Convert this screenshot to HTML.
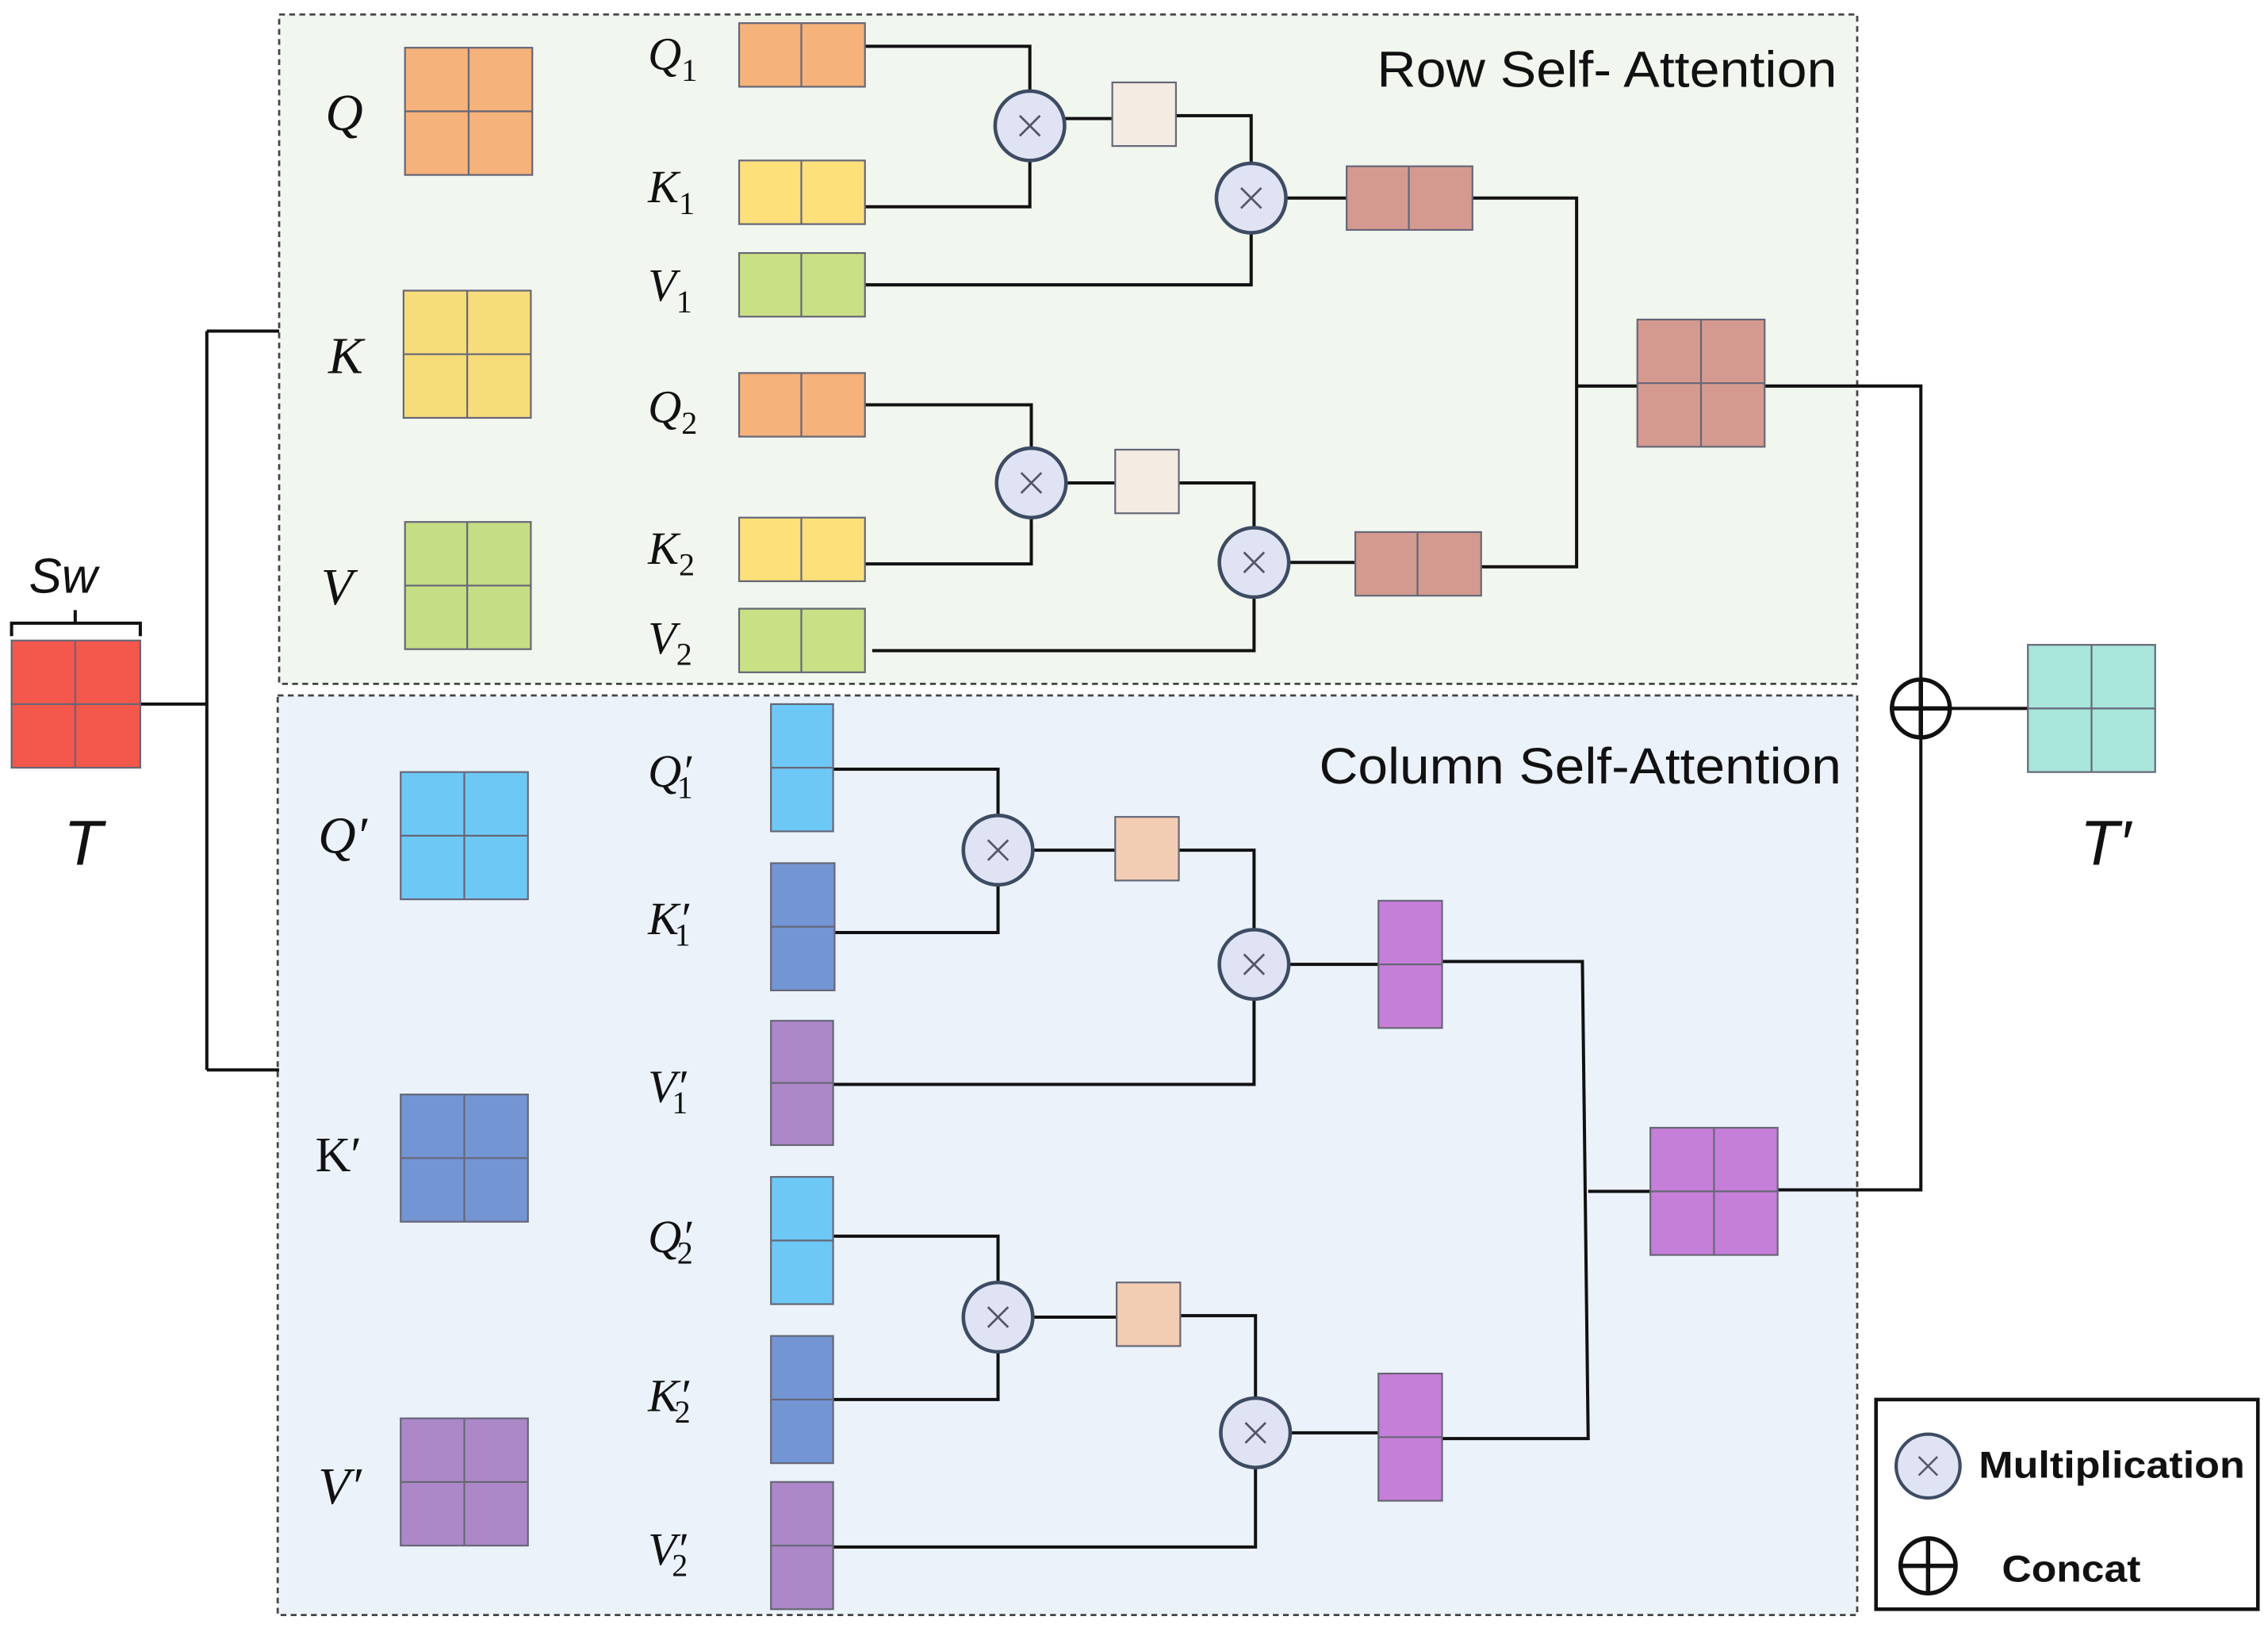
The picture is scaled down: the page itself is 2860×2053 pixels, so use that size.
<!DOCTYPE html>
<html><head><meta charset="utf-8"><style>html,body{margin:0;padding:0;background:#fff}svg{display:block}</style></head><body>
<svg width="2860" height="2053" viewBox="0 0 1568 1126" preserveAspectRatio="none" xmlns="http://www.w3.org/2000/svg">
<defs>
<g id="mul"><circle r="24" fill="#dfe3f4" stroke="#3d4b63" stroke-width="2.5"/><path d="M-7,-7L7,7M-7,7L7,-7" stroke="#556" stroke-width="1.5"/></g>
</defs>
<rect x="193" y="10" width="1091" height="463" fill="#f1f6ee" stroke="#444" stroke-width="1.5" stroke-dasharray="4,3"/>
<rect x="192" y="481" width="1092" height="636" fill="#ebf2fa" stroke="#444" stroke-width="1.5" stroke-dasharray="4,3"/>
<g fill="none" stroke="#111" stroke-width="2.2">
<path d="M97,487H143M143,229V740M143,229H193M143,740H193"/>
<path d="M598,32H712V63M598,143H712V111M736,82H769M813,80H865V113M598,197H865V161M889,137H931M1018,137H1090V392H1024M1090,267H1132M1220,267H1328V823H1229M1349,490H1402"/>
<path d="M598,280H713V310M598,390H713V358M737,334H771M815,334H867V365M603,450H867V413M891,389H937"/>
<path d="M576,532H690V564M577,645H690V612M714,588H771M815,588H867V643M576,750H867V691M891,667H953M997,665H1094L1098,995H997M1098,824H1141"/>
<path d="M576,855H690V887M576,968H690V935M714,911H772M816,910H868V967M576,1070H868V1015M892,991H953"/>
<path d="M8,440V431H97V440M52,431V422"/>
</g>
<g stroke="#667" stroke-width="1.2">
<rect x="8" y="443" width="89" height="88" fill="#f4574b"/><path d="M52,443V531M8,487H97"/>
<rect x="280" y="33" width="88" height="88" fill="#f5b27a"/><path d="M324,33V121M280,77H368"/>
<rect x="279" y="201" width="88" height="88" fill="#f7dc7a"/><path d="M323,201V289M279,245H367"/>
<rect x="280" y="361" width="87" height="88" fill="#c5dd85"/><path d="M323,361V449M280,405H367"/>
<rect x="277" y="534" width="88" height="88" fill="#6ec8f5"/><path d="M321,534V622M277,578H365"/>
<rect x="277" y="757" width="88" height="88" fill="#7495d4"/><path d="M321,757V845M277,801H365"/>
<rect x="277" y="981" width="88" height="88" fill="#ac88c8"/><path d="M321,981V1069M277,1025H365"/>
<rect x="1132" y="221" width="88" height="88" fill="#d49a90"/><path d="M1176,221V309M1132,265H1220"/>
<rect x="1141" y="780" width="88" height="88" fill="#c67fd8"/><path d="M1185,780V868M1141,824H1229"/>
<rect x="1402" y="446" width="88" height="88" fill="#a8e6dc"/><path d="M1446,446V534M1402,490H1490"/>
<rect x="511" y="16" width="87" height="44" fill="#f5b27a"/><path d="M554,16V60"/>
<rect x="511" y="111" width="87" height="44" fill="#fde07a"/><path d="M554,111V155"/>
<rect x="511" y="175" width="87" height="44" fill="#c9e184"/><path d="M554,175V219"/>
<rect x="511" y="258" width="87" height="44" fill="#f5b27a"/><path d="M554,258V302"/>
<rect x="511" y="358" width="87" height="44" fill="#fde07a"/><path d="M554,358V402"/>
<rect x="511" y="421" width="87" height="44" fill="#c9e184"/><path d="M554,421V465"/>
<rect x="931" y="115" width="87" height="44" fill="#d49a90"/><path d="M974,115V159"/>
<rect x="937" y="368" width="87" height="44" fill="#d49a90"/><path d="M980,368V412"/>
<rect x="769" y="57" width="44" height="44" fill="#f4ebe2"/>
<rect x="771" y="311" width="44" height="44" fill="#f4ebe2"/>
<rect x="771" y="565" width="44" height="44" fill="#f3cdb3"/>
<rect x="772" y="887" width="44" height="44" fill="#f3cdb3"/>
<rect x="533" y="487" width="43" height="88" fill="#6ec8f5"/><path d="M533,531H576"/>
<rect x="533" y="597" width="44" height="88" fill="#7495d4"/><path d="M533,641H577"/>
<rect x="533" y="706" width="43" height="86" fill="#ac88c8"/><path d="M533,749H576"/>
<rect x="533" y="814" width="43" height="88" fill="#6ec8f5"/><path d="M533,858H576"/>
<rect x="533" y="924" width="43" height="88" fill="#7495d4"/><path d="M533,968H576"/>
<rect x="533" y="1025" width="43" height="88" fill="#ac88c8"/><path d="M533,1069H576"/>
<rect x="953" y="623" width="44" height="88" fill="#c67fd8"/><path d="M953,667H997"/>
<rect x="953" y="950" width="44" height="88" fill="#c67fd8"/><path d="M953,994H997"/>
</g>
<use href="#mul" x="712" y="87"/><use href="#mul" x="865" y="137"/><use href="#mul" x="713" y="334"/><use href="#mul" x="867" y="389"/>
<use href="#mul" x="690" y="588"/><use href="#mul" x="867" y="667"/><use href="#mul" x="690" y="911"/><use href="#mul" x="868" y="991"/>
<g fill="none" stroke="#111" stroke-width="3"><circle cx="1328" cy="490" r="20"/><path d="M1308,490H1348M1328,470V510"/></g>
<rect x="1297" y="968" width="264" height="145" fill="#fff" stroke="#111" stroke-width="2.5"/>
<g transform="translate(1333,1014) scale(0.92)"><use href="#mul"/></g>
<g fill="none" stroke="#111" stroke-width="3"><circle cx="1333" cy="1083" r="19"/><path d="M1314,1083H1352M1333,1064V1102"/></g>
<g font-family="Liberation Sans, sans-serif" font-weight="bold" font-size="26" fill="#111">
<text x="1368" y="1022" textLength="184" lengthAdjust="spacingAndGlyphs">Multiplication</text><text x="1384" y="1094" textLength="96" lengthAdjust="spacingAndGlyphs">Concat</text></g>
<g font-family="Liberation Sans, sans-serif" font-size="35" fill="#111">
<text x="952" y="60" textLength="318" lengthAdjust="spacingAndGlyphs">Row Self- Attention</text><text x="912" y="542" textLength="361" lengthAdjust="spacingAndGlyphs">Column Self-Attention</text></g>
<g font-family="Liberation Sans, sans-serif" font-style="italic" fill="#111">
<text x="20" y="410" font-size="34">Sw</text>
<text x="44" y="598" font-size="44">T</text>
<text x="1438" y="598" font-size="44">T′</text>
</g>
<g font-family="Liberation Serif, serif" font-style="italic" fill="#111" font-size="36">
<text x="225" y="90">Q</text><text x="227" y="258">K</text><text x="222" y="418">V</text>
<text x="220" y="590">Q′</text><text x="220" y="1040">V′</text>
</g>
<text x="218" y="810" font-family="Liberation Serif, serif" font-size="34" fill="#111">K′</text>
<g font-family="Liberation Serif, serif" font-style="italic" fill="#111" font-size="32">
<text x="448" y="48">Q<tspan font-style="normal" font-size="22" dy="8">1</tspan></text>
<text x="448" y="140">K<tspan font-style="normal" font-size="22" dy="8">1</tspan></text>
<text x="448" y="208">V<tspan font-style="normal" font-size="22" dy="8">1</tspan></text>
<text x="448" y="292">Q<tspan font-style="normal" font-size="22" dy="8">2</tspan></text>
<text x="448" y="390">K<tspan font-style="normal" font-size="22" dy="8">2</tspan></text>
<text x="448" y="452">V<tspan font-style="normal" font-size="22" dy="8">2</tspan></text>
<text x="448" y="544">Q′<tspan font-style="normal" font-size="22" dx="-10" dy="8">1</tspan></text>
<text x="448" y="646">K′<tspan font-style="normal" font-size="22" dx="-10" dy="8">1</tspan></text>
<text x="448" y="762">V′<tspan font-style="normal" font-size="22" dx="-10" dy="8">1</tspan></text>
<text x="448" y="866">Q′<tspan font-style="normal" font-size="22" dx="-10" dy="8">2</tspan></text>
<text x="448" y="976">K′<tspan font-style="normal" font-size="22" dx="-10" dy="8">2</tspan></text>
<text x="448" y="1082">V′<tspan font-style="normal" font-size="22" dx="-10" dy="8">2</tspan></text>
</g>
</svg>
</body></html>
